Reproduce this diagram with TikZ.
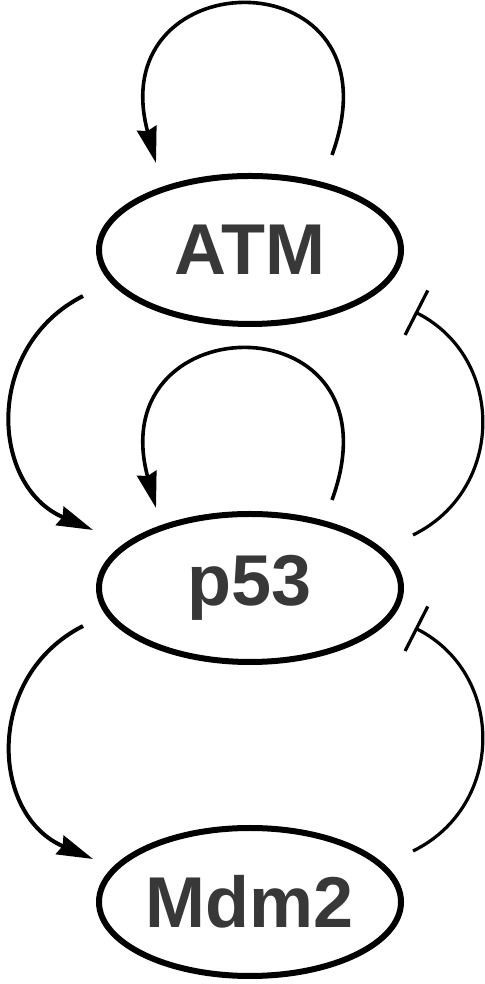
\documentclass[tikz,border=0pt]{standalone}
\usepackage{fontspec}
\setmainfont{Liberation Sans}
\usepackage{xcolor}
\definecolor{colorLabel}{HTML}{383838}
\colorlet{colorActivation}{black}
\colorlet{colorInhibition}{black}
\usepackage{tikz}
\usetikzlibrary{arrows.meta, shapes.geometric, positioning}
\tikzset{protein/.style={ellipse, draw, line width=3pt, minimum width=151pt, minimum height=74pt, inner sep=0pt, text=colorLabel, font=\bfseries\fontsize{36}{40}\selectfont}}

\begin{document}
\begin{tikzpicture}[x=0.5pt, y=0.5pt, >={Stealth[length=18pt, width=10pt, inset=1.5pt]}, line width=1.8pt]
\useasboundingbox (0,0) rectangle (485,984);
\node[protein] (atm) at (250,734) {ATM};
\node[protein, below=92pt of atm] (p53) {p53};
\node[protein, below=80pt of p53] (mdm) {Mdm2};
% self activation
\draw [->, colorActivation] ([shift={(82,95)}]atm.center) to [out=70, in=105, looseness=3.1] ([shift={(-94,87)}]atm.center);
\draw [->, colorActivation] ([shift={(82,88)}]p53.center) to [out=70, in=105, looseness=3.1] ([shift={(-94,80)}]p53.center);
% activation, left side
\draw [->, colorActivation, line width=2pt] ([shift={(-167,-46)}]atm.center) to [out=207, in=157, looseness=1.22] ([shift={(-157,58)}]p53.center);
\draw [->, colorActivation, line width=2pt] ([shift={(-167,-38)}]p53.center) to [out=207, in=157, looseness=1.22] ([shift={(-157,43)}]mdm.center);
% inhibition, right side
\draw [-{Bar[width=25pt]}, colorInhibition, line width=1.6pt] ([shift={(163,53)}]p53.center) to [out=26, in=-27, looseness=1.17] ([shift={(165,-62)}]atm.center);
\draw [-{Bar[width=25pt]}, colorInhibition, line width=1.6pt] ([shift={(163,51)}]mdm.center) to [out=26, in=-27, looseness=1.17] ([shift={(165,-40)}]p53.center);
\end{tikzpicture}
\end{document}
